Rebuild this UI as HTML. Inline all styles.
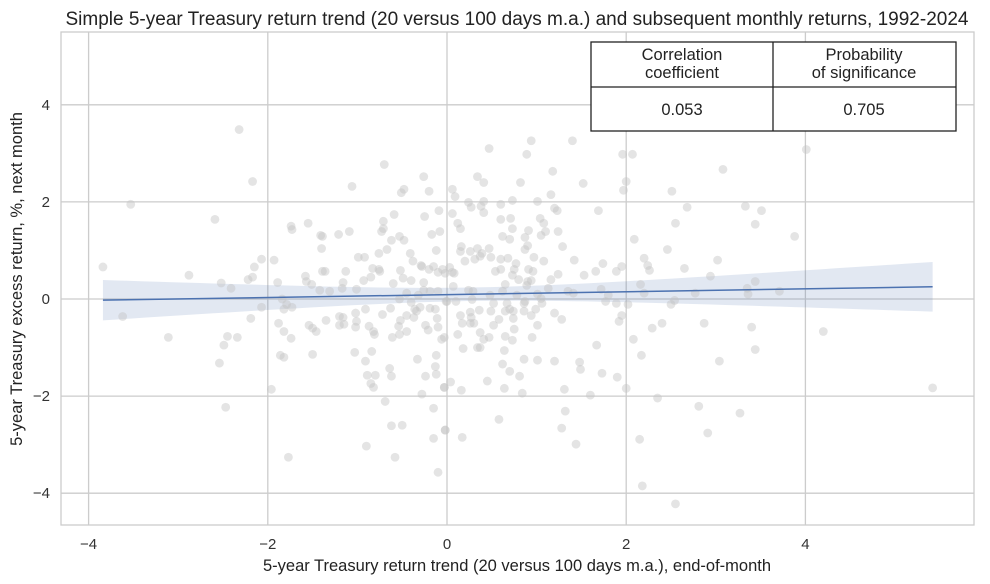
<!DOCTYPE html>
<html><head><meta charset="utf-8">
<style>
body{margin:0;background:#fff;}
svg{display:block;font-family:"Liberation Sans",Arial,sans-serif;}
</style></head>
<body>
<svg id="chart" width="990" height="584" viewBox="0 0 990 584">
<text x="517" y="25" text-anchor="middle" font-size="19" fill="#222">Simple 5-year Treasury return trend (20 versus 100 days m.a.) and subsequent monthly returns, 1992-2024</text>
<g id="grid"></g>
<g id="band"></g>
<g id="pts"></g>
<g id="reg"></g>
<rect x="61" y="32" width="913" height="493" fill="none" stroke="#cccccc" stroke-width="1.3"/>
<g id="ticks"></g>
<text x="517" y="571" text-anchor="middle" font-size="16.5" fill="#222">5-year Treasury return trend (20 versus 100 days m.a.), end-of-month</text>
<text transform="translate(22,279) rotate(-90)" text-anchor="middle" font-size="16.5" fill="#222">5-year Treasury excess return, %, next month</text>
<g>
<rect x="591" y="42" width="365" height="89" fill="#fff" stroke="#222" stroke-width="1.3"/>
<line x1="773" y1="42" x2="773" y2="131" stroke="#222" stroke-width="1.3"/>
<line x1="591" y1="87" x2="956" y2="87" stroke="#222" stroke-width="1.3"/>
<text x="682" y="60" text-anchor="middle" font-size="16.5" fill="#222">Correlation</text>
<text x="682" y="78" text-anchor="middle" font-size="16.5" fill="#222">coefficient</text>
<text x="864" y="60" text-anchor="middle" font-size="16.5" fill="#222">Probability</text>
<text x="864" y="78" text-anchor="middle" font-size="16.5" fill="#222">of significance</text>
<text x="682" y="115" text-anchor="middle" font-size="16.5" fill="#222">0.053</text>
<text x="864" y="115" text-anchor="middle" font-size="16.5" fill="#222">0.705</text>
</g>
</svg>
<script>
const xTicks = [-4, -2, 0, 2, 4];
const yTicks = [-4, -2, 0, 2, 4];
const xVals = [-2.32,-2.17,-3.53,-2.59,-3.84,-2.88,-2.52,-2.41,-2.22,-2.17,-2.15,-2.07,-1.93,-1.89,-3.62,-3.11,-2.45,-2.34,-2.49,-2.54,-2.19,-2.07,-1.96,-2.47,-1.77,-1.84,-1.79,-1.82,-1.73,-1.88,-1.82,-1.74,-1.86,-1.82,-1.50,-1.74,-1.73,-1.55,-1.41,-1.39,-1.40,-1.21,-1.09,-1.58,-1.57,-1.51,-1.39,-1.36,-1.13,-1.16,-1.17,-1.42,-1.31,-1.01,-1.54,-1.50,-1.46,-1.35,-1.20,-1.16,-1.20,-1.15,-1.02,-1.01,-1.02,-0.91,-0.87,-0.82,-0.81,-0.72,-0.63,-0.61,-0.54,-0.52,-0.53,-0.45,-0.45,-0.40,-0.36,-0.37,-0.34,-0.30,-0.24,-0.21,-0.19,-0.13,-0.11,-0.10,-0.06,-0.03,-1.03,-0.84,-0.91,-0.89,-0.80,-0.85,-0.82,-0.64,-0.62,-0.69,-0.62,-0.50,-0.90,-0.58,-0.33,-0.28,-0.12,-0.13,-0.12,-0.24,-0.15,-0.15,-0.10,-0.03,-0.02,-1.06,-0.70,-0.51,-0.48,-0.26,-0.20,-0.59,-0.71,-0.71,-0.73,-0.25,-0.09,-0.17,-0.08,-0.62,-0.53,-0.48,-0.67,-0.76,-0.99,-0.92,-0.41,-0.38,-0.12,-0.83,-0.76,-0.75,-0.85,-0.93,-0.52,-0.49,-0.40,-0.60,-0.29,-0.28,-0.20,-0.15,-0.10,-0.05,-0.02,-0.26,-0.26,-0.19,-0.10,-0.45,-0.53,-0.32,-0.01,
0.47,0.94,1.40,0.89,1.96,2.07,4.01,3.08,0.34,0.41,0.82,1.18,1.52,2.00,1.97,2.51,0.06,0.09,1.16,0.24,0.27,0.38,0.41,0.41,0.60,0.73,1.01,1.20,1.23,1.69,2.68,3.33,3.51,3.44,2.55,3.88,2.09,2.46,0.06,0.12,0.15,0.60,0.71,0.73,1.04,1.08,1.05,1.10,1.24,0.91,0.87,0.62,0.70,0.90,0.87,1.29,0.16,0.15,0.34,0.39,0.47,0.26,0.31,0.20,0.37,0.49,0.60,0.68,0.77,0.97,1.08,1.42,1.74,1.95,1.66,1.89,1.53,2.20,2.24,2.26,2.65,3.02,2.94,3.44,3.35,3.36,3.71,2.77,2.16,2.20,2.54,2.50,2.02,1.89,1.77,1.80,1.72,1.35,1.41,1.24,1.16,1.13,0.03,0.06,0.08,0.54,0.60,0.73,0.75,0.91,0.96,0.80,0.90,0.94,0.65,0.07,0.24,0.29,0.62,0.48,0.78,0.89,1.01,1.05,1.06,0.87,0.86,0.00,0.10,0.28,0.52,0.67,0.65,0.70,0.74,0.86,0.99,0.94,0.36,0.49,0.26,0.15,0.27,0.17,0.26,0.30,0.58,0.52,0.74,1.20,1.28,1.01,0.75,0.12,0.37,0.47,0.65,0.73,0.95,0.41,0.18,0.34,0.37,0.64,1.95,1.92,2.29,2.40,2.87,3.40,2.08,4.20,1.67,2.17,3.44,3.04,0.86,1.01,1.20,1.48,1.49,0.62,0.70,0.81,1.73,1.90,2.00,1.31,1.60,0.84,0.64,0.45,0.16,0.04,-0.03,2.35,2.81,3.27,1.32,0.58,1.28,-0.02,0.17,1.44,2.15,2.91,2.18,2.55,5.42];
const yVals = [3.49,2.42,1.95,1.64,0.66,0.49,0.33,0.22,0.40,0.45,0.66,0.82,0.80,0.34,-0.36,-0.79,-0.77,-0.79,-0.95,-1.32,-0.40,-0.17,-1.86,-2.23,-3.26,0,-0.11,-0.21,-0.17,-0.50,-0.67,-0.81,-1.16,-1.20,-1.14,1.50,1.43,1.56,1.31,1.29,1.04,1.33,1.39,0.47,0.36,0.30,0.57,0.57,0.57,0.34,0.22,0.18,0.16,0.20,-0.54,-0.60,-0.67,-0.44,-0.36,-0.38,-0.54,-0.52,-0.29,-0.46,-0.58,-0.21,-0.56,-0.67,-0.73,-0.32,-0.19,-0.79,-0.56,-0.44,-0.73,-0.67,-0.34,-0.07,-0.21,-0.38,-0.25,-0.17,-0.54,-0.64,-0.19,-0.21,-0.40,-0.58,-0.83,-0.79,-1.10,-1.08,-1.28,-1.57,-1.57,-1.74,-1.82,-1.43,-1.59,-2.11,-2.61,-2.60,-3.03,-3.26,-1.24,-1.96,-1.16,-1.39,-1.55,-1.59,-2.25,-2.87,-3.57,-1.82,-2.70,2.32,2.77,2.19,2.26,2.52,2.22,1.74,1.60,1.45,1.39,1.70,1.82,1.33,1.39,1.21,1.29,1.21,1.02,0.94,0.86,0.86,0.94,0.78,1.00,0.63,0.61,0.57,0.45,0.38,0.59,0.43,0.38,0.32,0.69,0.67,0.61,0.67,0.55,0.61,0.53,0.34,0.18,0.16,0.16,0.12,0,0.08,-0.05,
3.10,3.26,3.26,2.98,2.98,2.98,3.08,2.67,2.52,2.40,2.40,2.63,2.38,2.42,2.24,2.22,2.26,2.11,2.15,1.99,1.89,1.91,2.01,1.78,1.95,2.03,2.01,1.87,1.82,1.82,1.89,1.91,1.82,1.54,1.56,1.29,1.23,1.02,1.76,1.56,1.45,1.64,1.66,1.45,1.66,1.56,1.31,1.39,1.39,1.41,1.27,1.29,1.23,1.10,1.02,1.08,1.08,0.98,1.04,0.94,1.04,0.98,0.82,0.78,0.88,0.86,0.82,0.84,0.73,0.86,0.78,0.80,0.73,0.67,0.57,0.57,0.49,0.84,0.69,0.59,0.63,0.80,0.47,0.36,0.22,0.10,0.16,0.12,0.30,0.12,-0.03,-0.11,-0.11,-0.09,-0.05,0.08,0.20,0.16,0.12,0.51,0.40,0.22,0.65,0.55,0.53,0.57,0.61,0.49,0.61,0.61,0.57,0.40,0.36,0.38,0.30,0.26,0.18,0.16,0.16,0.08,0.08,0.28,0.10,0.01,-0.09,-0.05,-0.09,-0.05,-0.05,-0.01,-0.09,-0.09,-0.25,-0.21,-0.25,-0.25,-0.21,-0.34,-0.23,-0.25,-0.27,-0.34,-0.38,-0.50,-0.50,-0.50,-0.42,-0.54,-0.40,-0.29,-0.42,-0.54,-0.62,-0.73,-0.69,-0.79,-0.77,-0.85,-0.79,-0.83,-1.02,-1.00,-1.00,-1.06,-0.34,-0.46,-0.60,-0.50,-0.50,-0.58,-0.83,-0.67,-0.95,-1.16,-1.04,-1.28,-1.24,-1.26,-1.28,-1.30,-1.45,-1.34,-1.49,-1.59,-1.53,-1.61,-1.84,-1.86,-1.98,-1.94,-1.84,-1.69,-1.88,-1.71,-1.82,-2.04,-2.21,-2.35,-2.31,-2.48,-2.66,-2.70,-2.85,-2.99,-2.89,-2.76,-3.85,-4.22,-1.83];

const NS = 'http://www.w3.org/2000/svg';
const L = 61, R = 974, T = 32, B = 525;
function sx(v){ return 447 + v * 89.6; }
function sy(v){ return 299 - v * 48.55; }
function mk(tag, attrs, parent){
  const e = document.createElementNS(NS, tag);
  for (const k in attrs) e.setAttribute(k, attrs[k]);
  parent.appendChild(e);
  return e;
}
const grid = document.getElementById('grid');
const ticks = document.getElementById('ticks');
xTicks.forEach(t => {
  const g = mk('line', {x1:sx(t), x2:sx(t), y1:T, y2:B, stroke:'#cccccc', 'stroke-width':1.3}, grid);
  
  
  const tx = mk('text', {x:sx(t), y:B+24, 'text-anchor':'middle', 'font-size':15, fill:'#333'}, ticks);
  tx.textContent = t === 0 ? '0' : (t < 0 ? '\u2212' + Math.abs(t) : String(t));
  
  
});
yTicks.forEach(t => {
  const g = mk('line', {x1:L, x2:R, y1:sy(t), y2:sy(t), stroke:'#cccccc', 'stroke-width':1.3}, grid);
  
  
  const tx = mk('text', {x:L-11, y:sy(t)+5, 'text-anchor':'end', 'font-size':15, fill:'#333'}, ticks);
  tx.textContent = t === 0 ? '0' : (t < 0 ? '\u2212' + Math.abs(t) : String(t));
  
  
});
const pts = document.getElementById('pts');
const n = Math.min(xVals.length, yVals.length);
for (let i = 0; i < n; i++){
  const c = mk('circle', {cx:sx(xVals[i]), cy:sy(yVals[i]), r:4.4, fill:'#c4c4c4', 'fill-opacity':0.45}, pts);
  
  
}
let mx=0,my=0; for(let i=0;i<n;i++){mx+=xVals[i];my+=yVals[i];} mx/=n; my/=n;
let sxx=0,sxy=0; for(let i=0;i<n;i++){sxx+=(xVals[i]-mx)**2; sxy+=(xVals[i]-mx)*(yVals[i]-my);}
const b = sxy/sxx, a = my - b*mx;
let sse=0; for(let i=0;i<n;i++){sse+=(yVals[i]-a-b*xVals[i])**2;}
const s = Math.sqrt(sse/(n-2));
const xmin = Math.min(...xVals), xmax = Math.max(...xVals);
const up=[], lo=[];
for(let k=0;k<=60;k++){
  const x = xmin + (xmax-xmin)*k/60;
  const h = 1.97*s*Math.sqrt(1/n + (x-mx)**2/sxx);
  const f = a + b*x;
  up.push(sx(x)+','+sy(f+h)); lo.unshift(sx(x)+','+sy(f-h));
}
const band = mk('polygon', {points: up.concat(lo).join(' '), fill:'#4c72b0', 'fill-opacity':0.16}, document.getElementById('band'));


const ln = mk('line', {x1:sx(xmin), y1:sy(a+b*xmin), x2:sx(xmax), y2:sy(a+b*xmax), stroke:'#4c72b0', 'stroke-width':1.5}, document.getElementById('reg'));


</script>
</body></html>
